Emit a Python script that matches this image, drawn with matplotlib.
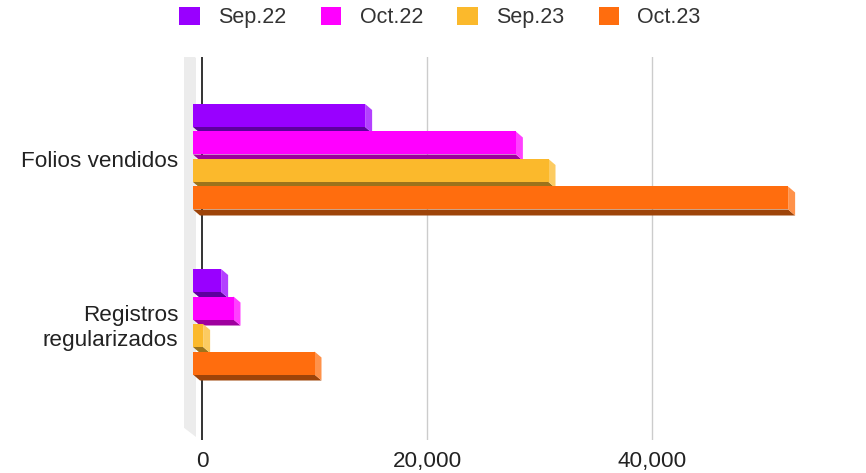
import matplotlib
matplotlib.use("Agg")
import matplotlib.pyplot as plt
from matplotlib.patches import Polygon, Rectangle, Patch
from matplotlib.transforms import IdentityTransform
import matplotlib.colors as mcolors
import numpy as np

plt.rcParams['font.family'] = ['Liberation Sans', 'DejaVu Sans']

categories = ["Folios vendidos", "Registros\nregularizados"]
series = ["Sep.22", "Oct.22", "Sep.23", "Oct.23"]
sep22 = [15300, 2500]
oct22 = [28700, 3600]
sep23 = [31600, 900]
oct23 = [52900, 10800]
values = [sep22, oct22, sep23, oct23]
colors = ["#9900ff", "#ff00ff", "#fbb92c", "#ff6d0e"]
xticks = [0, 20000, 40000]

FS = 15.5
FT = 16.2
W, H = 866, 473
fig = plt.figure(figsize=(W / 100, H / 100), dpi=100)
x0px, top_px, bot_px = 184, 57, 440
ax = fig.add_axes([x0px / W, (H - bot_px) / H, (W - x0px) / W, (bot_px - top_px) / H])
ppk = 11.25  # pixels per 1000
ax.set_xlim(-18 / ppk * 1000, (W - 202) / ppk * 1000)
gsp = 165.0
ax.set_ylim((bot_px - 159) / gsp, (top_px - 159) / gsp)
for s in ax.spines.values():
    s.set_visible(False)
ax.set_facecolor("none")

ax.set_xticks(xticks)
ax.set_xticklabels([f"{t:,}" for t in xticks], fontsize=FT, color="#222222")
ax.set_yticks(range(len(categories)))
ax.set_yticklabels(categories, fontsize=FT, color="#222222")
ax.tick_params(axis="both", length=0)
ax.tick_params(axis="x", pad=8)
ax.tick_params(axis="y", pad=4)
for t in xticks[1:]:
    ax.axvline(t, color="#cccccc", lw=1.0, zorder=1)
ax.axvline(0, color="#333333", lw=1.4, zorder=2)

T = ax.transData
X0, _ = T.transform((0, 0))
ytop_d = H - top_px
ybot_d = H - bot_px
wall = Polygon([(X0 - 19, ytop_d + 9), (X0 - 6, ytop_d - 1), (X0 - 6, ybot_d + 3), (X0 - 19, ybot_d + 13)],
               closed=True, transform=IdentityTransform(), facecolor="#ececec", edgecolor="none", zorder=1.5)
ax.add_artist(wall)

bh = 1.0 / 6
n = len(series)
front_off = -9
dx, dy = 7, 6
face_h = 23
z = 3
for ci in range(len(categories)):
    for si in range(n):
        v = values[si][ci]
        band_top = ci - 2 * bh + si * bh
        fs, yt = T.transform((0, band_top))
        fe, _ = T.transform((v, band_top))
        fs += front_off
        fe += front_off
        yb = yt - face_h
        base = np.array(mcolors.to_rgb(colors[si]))
        dark = base * 0.62
        light = base + (1 - base) * 0.25
        bottom = Polygon([(fs, yb), (fe, yb), (fe + dx, yb - dy), (fs + dx, yb - dy)], closed=True,
                         transform=IdentityTransform(), facecolor=dark, edgecolor="none", zorder=z)
        side = Polygon([(fe, yt), (fe + dx, yt - dy), (fe + dx, yb - dy), (fe, yb)], closed=True,
                       transform=IdentityTransform(), facecolor=light, edgecolor="none", zorder=z)
        front = Rectangle((fs, yb), fe - fs, face_h, transform=IdentityTransform(),
                          facecolor=base, edgecolor="none", zorder=z + 0.5)
        for p in (bottom, side, front):
            p.set_clip_on(False)
            ax.add_artist(p)
        z += 1

handles = [Patch(facecolor=c, edgecolor="none") for c in colors]
leg = fig.legend(handles, series, loc="center", bbox_to_anchor=(440 / W, 1 - 17.5 / H), ncol=4,
                 frameon=False, fontsize=FS, handlelength=0.95, handleheight=0.95,
                 handletextpad=0.85, columnspacing=1.6, labelcolor="#333333")

fig.savefig("out.png", dpi=100)
